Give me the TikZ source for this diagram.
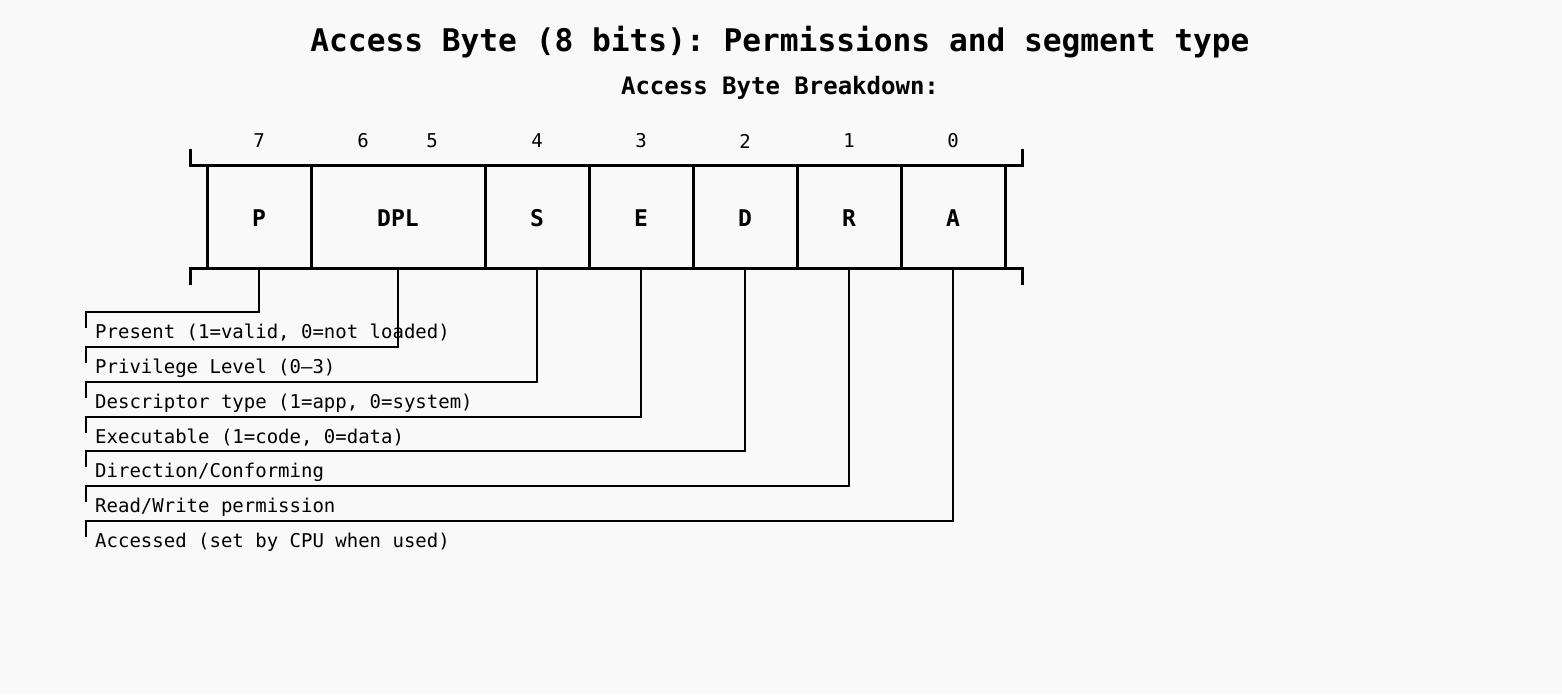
\documentclass[tikz,border=0pt]{standalone}
\usepackage{fontspec}
\setmainfont{DejaVu Sans Mono}
\definecolor{bg}{HTML}{F9F9F9}
\newcommand\fieldtxt[1]{\raisebox{-9.9pt}[0pt][0pt]{#1}}
\begin{document}
\frenchspacing
\begin{tikzpicture}[x=1pt,y=-1pt,
  cell/.style={draw,line width=3pt,minimum height=103pt,inner sep=0pt,
    font=\fontsize{23}{23}\bfseries\selectfont},
  bitno/.style={font=\fontsize{19}{19}\selectfont},
  desc/.style={anchor=west,inner sep=0pt,font=\fontsize{19}{19}\selectfont},
  lead/.style={line width=1.5pt}]
  \fill[bg] (0,0) rectangle (1562,694);
  \useasboundingbox (0,0) rectangle (1562,694);
  \node[font=\fontsize{31.2}{31.2}\bfseries\selectfont] (title) at (780,42)
    {Access Byte (8 bits): Permissions and segment type};
  \node[font=\fontsize{24}{24}\bfseries\selectfont] (sub) at (780,88)
    {Access Byte Breakdown:};
  % frame
  \draw[line width=3pt] (190,149) -- (190,165) -- (1022,165) -- (1022,149);
  \draw[line width=3pt] (190,285) -- (190,268) -- (1022,268) -- (1022,285);
  % fields
  \node[cell,minimum width=174pt] (cDPL) at (398,216.5) {\fieldtxt{DPL}};
  \foreach \n/\x in {P/259,S/537,E/641,D/745,R/849,A/953}
    \node[cell,minimum width=104pt] (c\n) at (\x,216.5) {\fieldtxt{\n}};
  % bit numbers
  \foreach \b/\x in {7/259,6/363,5/432,4/537,3/641,2/745,1/849,0/953}
    \node[bitno] (b\b) at (\x,141) {\b};
  % descriptions
  \foreach \n/\y/\t in {P/331/{Present (1=valid, 0=not loaded)},
      DPL/366/{Privilege Level (0–3)},
      S/401/{Descriptor type (1=app, 0=system)},
      E/436/{Executable (1=code, 0=data)},
      D/470/{Direction/Conforming},
      R/505/{Read/Write permission},
      A/540/{Accessed (set by CPU when used)}} {
    \node[desc] (l\n) at (95,\y+2) {\t};
    \coordinate (k\n) at (86,\y-19);
    \coordinate (e\n) at (86,\y-3);
    \draw[lead] (c\n.south) |- (k\n) -- (e\n);
  }
\end{tikzpicture}
\end{document}
